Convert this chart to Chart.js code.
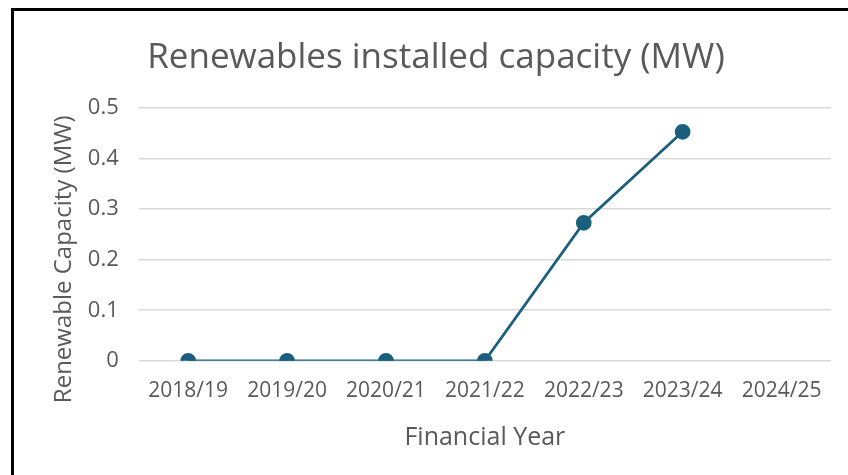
<!DOCTYPE html>
<html>
<head>
<meta charset="utf-8">
<script src="https://cdn.jsdelivr.net/npm/chart.js@4.4.1/dist/chart.umd.min.js"></script>
<style>
  html, body { margin: 0; padding: 0; background: #fff; }
  #frame {
    position: absolute; left: 11px; top: 8px; width: 837px; height: 467px;
    border-left: 3px solid #000; border-top: 3px solid #000; box-sizing: border-box;
  }
  #box { position: absolute; left: 0; top: 0; width: 848px; height: 475px; }
</style>
</head>
<body>
<div id="box"><canvas id="capChart" width="848" height="475"></canvas></div>
<div id="frame"></div>
<script>
// chart data
const years = ["2018/19", "2019/20", "2020/21", "2021/22", "2022/23", "2023/24", "2024/25"];
const capacityMW = [0, 0, 0, 0, 0.273, 0.453, null];
const yTicks = [0, 0.1, 0.2, 0.3, 0.4, 0.5];

const grey = "#595959";
const lineColor = "#1b5f7f";
const fontName = "'Open Sans', 'Liberation Sans', sans-serif";

const ctx = document.getElementById("capChart");
new Chart(ctx, {
  type: "line",
  data: {
    labels: years,
    datasets: [
      {
        label: "Renewable Capacity (MW)",
        data: capacityMW,
        borderColor: lineColor,
        backgroundColor: lineColor,
        borderWidth: 2.75,
        pointRadius: 6.5,
        pointHoverRadius: 6.5,
        pointBackgroundColor: lineColor,
        pointBorderColor: lineColor,
        tension: 0,
        spanGaps: false,
      },
    ],
  },
  options: {
    responsive: false,
    animation: false,
    devicePixelRatio: 1,
    layout: { padding: { left: 50, right: 17, top: 14, bottom: 22 } },
    plugins: {
      legend: { display: false },
      tooltip: { enabled: false },
      title: {
        display: true,
        // trailing space nudges the centred title a little to the left
        text: "Renewables installed capacity (MW) ",
        color: grey,
        font: { family: fontName, size: 35, weight: "normal" },
        padding: { top: 23, bottom: 29 },
      },
    },
    scales: {
      x: {
        offset: true,
        grid: { display: false, drawTicks: false },
        border: { display: false },
        ticks: {
          color: grey,
          padding: 18,
          maxRotation: 0,
          autoSkip: false,
          font: { family: fontName, size: 21 },
        },
        title: {
          display: true,
          text: "Financial Year",
          color: grey,
          font: { family: fontName, size: 25 },
          padding: { top: 1, bottom: 0 },
        },
      },
      y: {
        min: 0,
        max: 0.5,
        afterBuildTicks: (axis) => {
          axis.ticks = yTicks.map((v) => ({ value: v }));
        },
        grid: { color: "#d9d9d9", lineWidth: 1.5, drawTicks: false },
        border: { display: false },
        ticks: {
          color: grey,
          padding: 20,
          font: { family: fontName, size: 22 },
          callback: (v) => String(Math.round(v * 10) / 10),
        },
        title: {
          display: true,
          // trailing spaces shift the rotated title down, as in the original
          text: "Renewable Capacity (MW)        ",
          color: grey,
          font: { family: fontName, size: 24 },
          padding: { top: 0, bottom: -11 },
        },
      },
    },
  },
});
</script>
</body>
</html>
